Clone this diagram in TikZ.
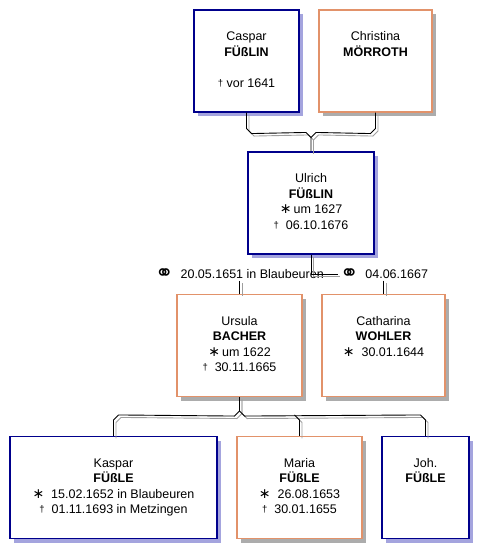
\documentclass[tikz,border=0pt]{standalone}
\usepackage{fontspec}
\setmainfont{Liberation Sans}
\newfontfamily\symfont{DejaVu Sans}
\usetikzlibrary{positioning, calc, shadows}
\definecolor{manline}{RGB}{0,0,140}
\definecolor{womanline}{RGB}{226,146,106}
\definecolor{manshade}{RGB}{164,164,222}
\definecolor{womanshade}{RGB}{172,172,172}
\definecolor{wireshade}{gray}{0.62}
\newcommand{\bsym}{{\symfont\fontsize{14}{14}\selectfont ∗}}
\newcommand{\dsym}{\raisebox{1pt}{\fontsize{9.5}{9.5}\selectfont †}}
\newcommand{\msym}{\raisebox{-2pt}[0pt][0pt]{\symfont\fontsize{22}{22}\selectfont ⚭}}
\newcommand{\person}[4]{#1\strut\\\textbf{#2}\strut\\#3\strut\\#4\strut}
\newcommand{\wire}[1]{\draw[wireshadow] #1; \draw[wire] #1;}
\tikzset{
  card/.style={draw, line width=1.1pt, fill=white, align=center,
    inner sep=0pt, minimum height=102},
  man/.style={card, draw=manline, drop shadow={shadow xshift=4pt,
    shadow yshift=-4pt, fill=manshade, opacity=1}},
  woman/.style={card, draw=womanline, drop shadow={shadow xshift=4pt,
    shadow yshift=-4pt, fill=womanshade, opacity=1}},
  wire/.style={draw=black, line width=0.9pt},
  wireshadow/.style={draw=wireshade, line width=0.9pt,
    transform canvas={xshift=2.5pt, yshift=-2.5pt}},
  wedding/.style={inner sep=2pt}
}

\begin{document}
\begin{tikzpicture}[x=1pt, y=-1pt, font=\fontsize{12.5}{15.5}\selectfont]
\useasboundingbox (0,0) rectangle (488,558);

% parents of Ulrich
\node[man, minimum width=105] (caspar) at (246.5,61)
  {\person{Caspar}{FÜßLIN}{}{\dsym\ vor 1641}};
\node[woman, minimum width=113] (christina) at (375.5,61)
  {\person{Christina}{MÖRROTH}{}{}};

\node[man, minimum width=126] (ulrich) at (311,203)
  {\person{Ulrich}{FÜßLIN}{\bsym\,um 1627}{\dsym\ \ 06.10.1676}};

% wives
\node[woman, minimum width=125] (ursula) at (239.5,345.5)
  {\person{Ursula}{BACHER}{\bsym\,um 1622}{\dsym\ \ 30.11.1665}};
\node[woman, minimum width=123] (catharina) at (383.5,345.5)
  {\person{Catharina}{WOHLER}{\bsym\ \ 30.01.1644}{}};

% children
\node[man, minimum width=207] (kaspar) at (113.5,487.5)
  {\person{Kaspar}{FÜßLE}{\bsym\ \ 15.02.1652 in Blaubeuren}{\dsym\ \ 01.11.1693 in Metzingen}};
\node[woman, minimum width=125] (maria) at (299.5,487.5)
  {\person{Maria}{FÜßLE}{\bsym\ \ 26.08.1653}{\dsym\ \ 30.01.1655}};
\node[man, minimum width=87] (joh) at (425.5,487.5)
  {\person{Joh.}{FÜßLE}{}{}};

\node[wedding] (m1) at (239.5,274) {\msym\ \ 20.05.1651 in Blaubeuren};
\node[wedding] (m2) at (384,274) {\msym\ \ 04.06.1667};

\wire{(caspar.south) -- ++(0,16) -- ++(5,5) -- ($(ulrich.north)+(-5,-19)$) -- ++(5,5) -- (ulrich.north)}
\wire{(christina.south) -- ++(0,16) -- ++(-5,5) -- ($(ulrich.north)+(5,-19)$) -- ++(-5,5)}

\wire{(ulrich.south) |- (m2.west)}
\wire{(ursula.north |- m1.south) -- (ursula.north)}
\wire{(catharina.north |- m2.south) -- (catharina.north)}

\wire{(ursula.south) -- ++(0,14) -- ++(-5,5) -- ($(kaspar.north)+(5,-21)$) -- ++(-5,5) -- (kaspar.north)}
\wire{(ursula.south) -- ++(0,14) -- ++(5,5) -- ($(joh.north)+(-5,-21)$) -- ++(5,5) -- (joh.north)}
\wire{($(maria.north)+(-5,-21)$) -- ++(5,5) -- (maria.north)}
\end{tikzpicture}
\end{document}
